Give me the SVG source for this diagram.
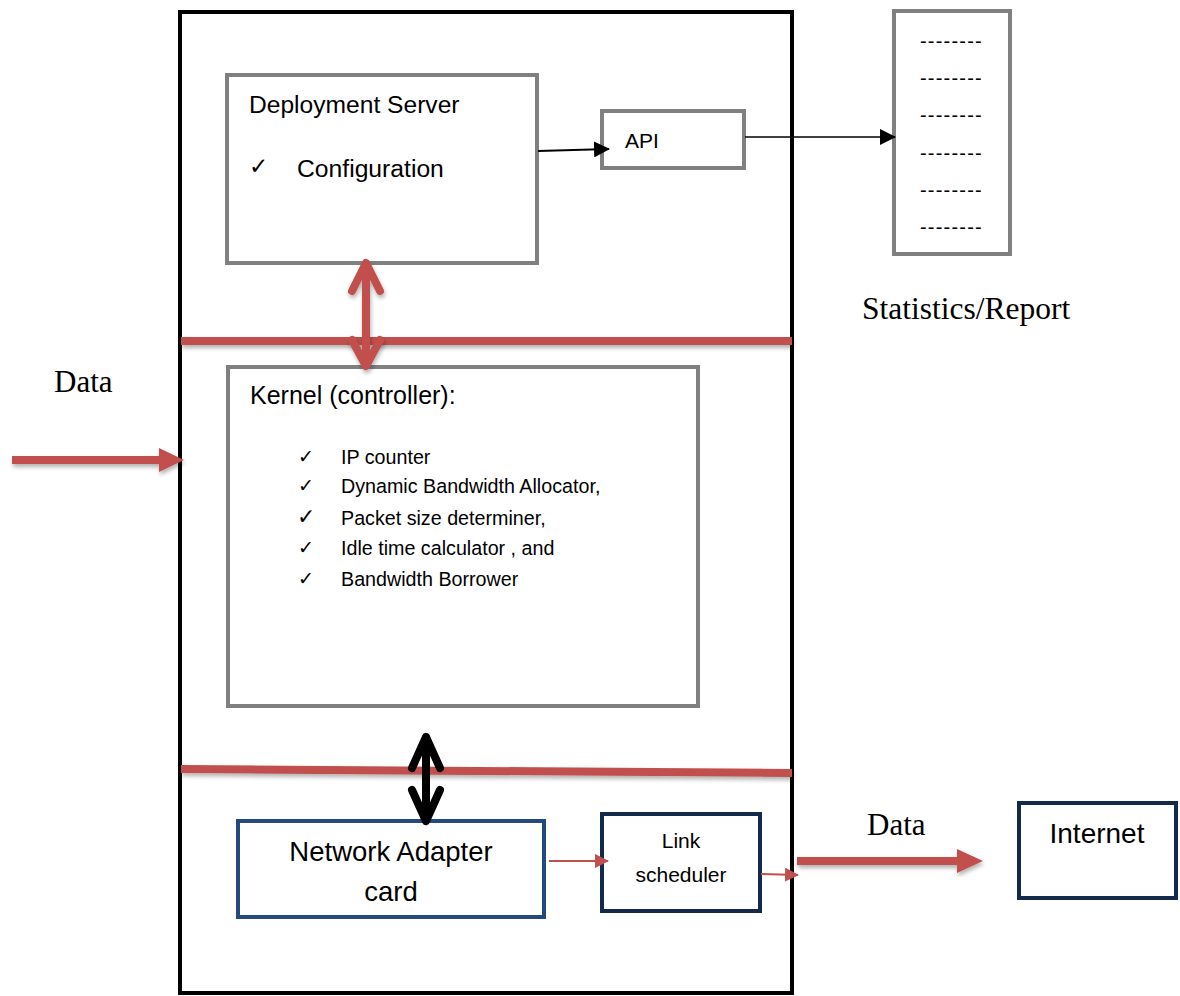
<svg xmlns="http://www.w3.org/2000/svg" width="1180" height="996" viewBox="0 0 1180 996">
<defs>
<style>
.sans{font-family:"Liberation Sans",Arial,sans-serif;fill:#000}
.serif{font-family:"Liberation Serif","Times New Roman",serif;fill:#000}
.chk{font-family:"DejaVu Sans",sans-serif;fill:#000}
.gray{fill:#fff;stroke:#808080;stroke-width:4}
.navy{fill:#fff;stroke:#132a4a;stroke-width:4}
.blue{fill:#fff;stroke:#24497c;stroke-width:4}
.red{stroke:#c0504d;fill:none}
</style>
<filter id="sh" filterUnits="userSpaceOnUse" x="0" y="0" width="1180" height="996">
<feDropShadow dx="1" dy="3" stdDeviation="2" flood-color="#000" flood-opacity="0.3"/>
</filter>
<marker id="ab2" markerWidth="16" markerHeight="16" refX="15" refY="8" orient="auto" markerUnits="userSpaceOnUse" viewBox="0 0 16 16">
<path d="M0,0 L16,8 L0,16 Z" fill="#000"/>
</marker>
<marker id="ar" markerWidth="14" markerHeight="14" refX="13" refY="7" orient="auto" markerUnits="userSpaceOnUse" viewBox="0 0 14 14">
<path d="M0,0 L14,7 L0,14 Z" fill="#c0504d"/>
</marker>
</defs>

<g id="system">
<rect x="180" y="12" width="612" height="981" fill="none" stroke="#000" stroke-width="4"/>
</g>

<g id="deployment-server">
<rect class="gray" x="227" y="75" width="310" height="188"/>
<text class="sans" x="249" y="113" font-size="24.6">Deployment Server</text>
<text class="chk" x="249" y="174" font-size="23">✓</text>
<text class="sans" x="297" y="177" font-size="24.7">Configuration</text>
</g>

<g id="api">
<rect class="gray" x="602" y="111" width="142" height="57"/>
<text class="sans" x="625" y="148" font-size="21">API</text>
</g>

<g id="statistics">
<rect class="gray" x="894" y="11" width="116" height="243"/>
<g class="sans" font-size="20" letter-spacing="1.2">
<text x="920" y="48">--------</text>
<text x="920" y="85">--------</text>
<text x="920" y="122">--------</text>
<text x="920" y="160">--------</text>
<text x="920" y="197">--------</text>
<text x="920" y="234">--------</text>
</g>
<text class="serif" x="862" y="319" font-size="31.5">Statistics/Report</text>
</g>

<g id="kernel">
<rect class="gray" x="228" y="367" width="470" height="339"/>
<text class="sans" x="250" y="404" font-size="25">Kernel (controller):</text>
<g class="chk" font-size="19">
<text x="298" y="463">✓</text>
<text x="298" y="492">✓</text>
<text x="297" y="524" font-size="22">✓</text>
<text x="298" y="554">✓</text>
<text x="298" y="585">✓</text>
</g>
<g class="sans" font-size="19.7">
<text x="341" y="464">IP counter</text>
<text x="341" y="493">Dynamic Bandwidth Allocator,</text>
<text x="341" y="525">Packet size determiner,</text>
<text x="341" y="555">Idle time calculator , and</text>
<text x="341" y="586">Bandwidth Borrower</text>
</g>
</g>

<g id="network-adapter">
<rect class="blue" x="238" y="821" width="306" height="96"/>
<text class="sans" x="391" y="861" font-size="27.5" text-anchor="middle">Network Adapter</text>
<text class="sans" x="391" y="901" font-size="27.5" text-anchor="middle">card</text>
</g>

<g id="link-scheduler">
<rect class="navy" x="602" y="814" width="158" height="97"/>
<text class="sans" x="681" y="848" font-size="21" text-anchor="middle">Link</text>
<text class="sans" x="681" y="882" font-size="21" text-anchor="middle">scheduler</text>
</g>

<g id="internet">
<rect class="navy" x="1019" y="803" width="157" height="95"/>
<text class="sans" x="1097" y="843" font-size="28" text-anchor="middle">Internet</text>
</g>

<g id="labels">
<text class="serif" x="54" y="392" font-size="31">Data</text>
<text class="serif" x="867" y="835" font-size="31">Data</text>
</g>

<g id="connectors">
<line class="red" x1="181" y1="341" x2="792" y2="341" stroke-width="8" filter="url(#sh)"/>
<line class="red" x1="181" y1="769" x2="792" y2="773" stroke-width="8" filter="url(#sh)"/>
<g class="red" stroke-width="8" stroke-linecap="round" stroke-linejoin="round" filter="url(#sh)">
<line x1="366" y1="264" x2="366" y2="364"/>
<path d="M352,291 L366,263 L380,291"/>
<path d="M352,340 L366,366 L380,340"/>
</g>
<g stroke="#000" fill="none" stroke-width="8" stroke-linecap="round" stroke-linejoin="round">
<line x1="426" y1="738" x2="426" y2="820"/>
<path d="M412,768 L426,737 L440,768"/>
<path d="M412,790 L426,821 L440,790"/>
</g>
<line x1="538" y1="151" x2="609" y2="149" stroke="#000" stroke-width="2" marker-end="url(#ab2)"/>
<line x1="745" y1="137" x2="895" y2="137" stroke="#000" stroke-width="1.5" marker-end="url(#ab2)"/>
<g filter="url(#sh)">
<line x1="12" y1="460" x2="162" y2="460" stroke="#c0504d" stroke-width="8"/>
<path d="M159,448 L184,460 L159,472 Z" fill="#c0504d"/>
</g>
<g filter="url(#sh)">
<line x1="797" y1="861" x2="960" y2="861" stroke="#c0504d" stroke-width="8"/>
<path d="M957,849 L983,861 L957,873 Z" fill="#c0504d"/>
</g>
<line x1="549" y1="861" x2="608" y2="861" stroke="#c0504d" stroke-width="2" marker-end="url(#ar)"/>
<line x1="761" y1="874" x2="798" y2="875" stroke="#c0504d" stroke-width="2" marker-end="url(#ar)"/>
</g>
</svg>
